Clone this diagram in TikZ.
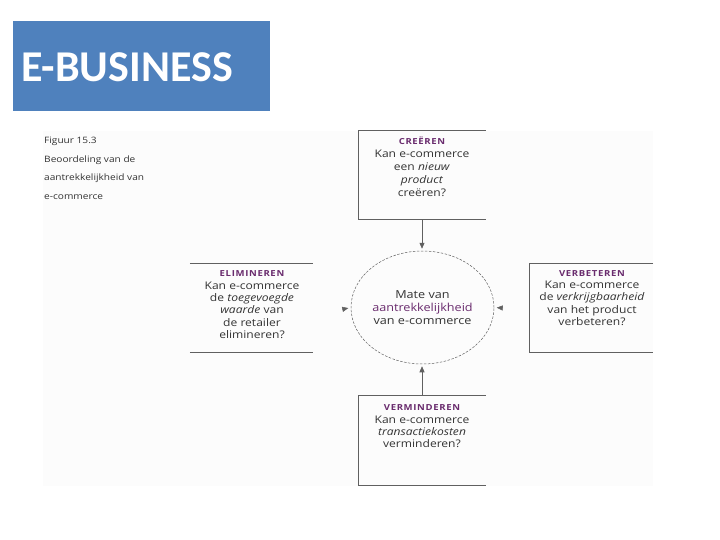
\documentclass[tikz,border=0pt]{standalone}
\usepackage{fontspec}
\setmainfont[FakeStretch=1.15]{Open Sans}
\newfontfamily\titlefont{Carlito}
\newfontfamily\hdrfont[LetterSpace=8,FakeStretch=1.15]{Open Sans}
\usetikzlibrary{shapes.geometric,arrows.meta}
\definecolor{slideblue}{HTML}{4F81BD}
\definecolor{headpurple}{HTML}{6A2C6E}
\definecolor{linegray}{HTML}{606060}
\definecolor{textgray}{HTML}{333333}
\definecolor{scanbg}{HTML}{FCFCFC}
\newcommand{\hdr}[1]{{\hdrfont\bfseries\fontsize{8.3}{9}\selectfont\textcolor{headpurple}{#1}}}
\tikzset{
  box/.style={draw=none, rectangle, inner sep=0pt},
  edge/.style={draw=linegray, line width=0.7pt},
  boxtext/.style={anchor=north, align=center, inner sep=0pt, text=textgray,
    font=\fontsize{10.5}{12.4}\selectfont},
  conn/.style={draw=linegray, line width=0.7pt,
    -{Triangle[length=6pt,width=5pt]}, shorten >=2pt},
  tiponly/.style={draw=linegray, line width=0.5pt,
    -{Triangle[length=6pt,width=5pt]}, shorten >=2.5pt},
}
\begin{document}
\begin{tikzpicture}[x=1pt,y=-1pt]
\useasboundingbox (0,0) rectangle (720,540);
\fill[white] (0,0) rectangle (720,540);
% scanned figure background
\fill[scanbg] (43,131) rectangle (653,486);
% title block
\node[box, fill=slideblue, minimum width=257pt, minimum height=90pt, anchor=north west]
  (title) at (13,21) {};
\node[anchor=west, inner sep=0pt, text=white, font=\titlefont\bfseries\fontsize{44}{50}\selectfont]
  (titletext) at (21,67) {E-BUSINESS};
% caption
\node[anchor=north west, align=left, inner sep=0pt, text=textgray,
  font=\fontsize{8.8}{18.6}\selectfont] (caption) at (44,137)
  {Figuur 15.3\\Beoordeling van de\\aantrekkelijkheid van\\e-commerce};
% boxes
\node[box, minimum width=127pt, minimum height=88pt] (cre) at (422,175) {};
\node[box, minimum width=123pt, minimum height=88pt] (eli) at (251.5,308) {};
\node[box, minimum width=123pt, minimum height=88pt] (verb) at (591.5,308) {};
\node[box, minimum width=127pt, minimum height=89pt] (verm) at (422,440.5) {};
\draw[edge] (cre.north east) -- (cre.north west) -- (cre.south west) -- (cre.south east);
\draw[edge] (eli.north west) -- (eli.north east);
\draw[edge] (eli.south west) -- (eli.south east);
\draw[edge] (verb.north east) -- (verb.north west) -- (verb.south west) -- (verb.south east);
\draw[edge] (verm.north east) -- (verm.north west) -- (verm.south west) -- (verm.south east);
% box texts
\node[boxtext, font=\fontsize{10.5}{13}\selectfont] (creT) at (422,137)
  {\hdr{CREËREN}\\Kan e-commerce\\een \textit{nieuw}\\\textit{product}\\creëren?};
\node[boxtext] (eliT) at (252,270.5)
  {\hdr{ELIMINEREN}\\Kan e-commerce\\de \textit{toegevoegde}\\\textit{waarde} van\\de retailer\\elimineren?};
\node[boxtext] (verbT) at (592,270)
  {\hdr{VERBETEREN}\\Kan e-commerce\\de \textit{verkrijgbaarheid}\\van het product\\verbeteren?};
\node[boxtext] (vermT) at (422,404.5)
  {\hdr{VERMINDEREN}\\Kan e-commerce\\\textit{transactiekosten}\\verminderen?};
% central ellipse
\node[ellipse, draw=linegray, line width=0.5pt, dash pattern=on 2.5pt off 1.5pt,
  minimum width=143pt, minimum height=113pt, inner sep=0pt, align=center, text=textgray,
  font=\fontsize{11}{13}\selectfont] (circ) at (422.5,307.5)
  {Mate van\\\textcolor{headpurple}{aantrekkelijkheid}\\van e-commerce};
% connectors
\draw[conn] (cre.south) -- (cre.south |- circ.north);
\draw[conn] (verm.north) -- (verm.north |- circ.south);
\coordinate (lt) at (344,309);
\coordinate (rt) at (503,308);
\draw[tiponly] (lt) -- (circ.west);
\draw[tiponly] (rt) -- (circ.east);
\end{tikzpicture}
\end{document}
